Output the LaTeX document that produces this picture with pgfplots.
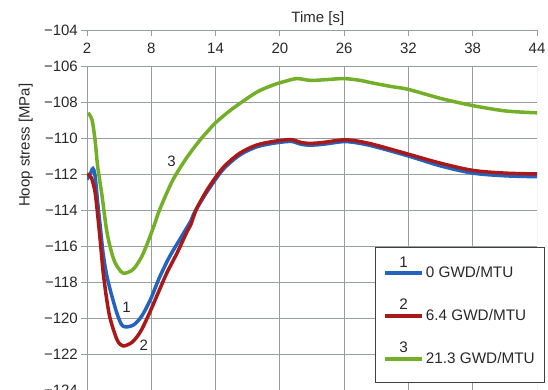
\documentclass[border=0pt]{standalone}
\usepackage{pgfplots}
\pgfplotsset{compat=1.18}
\usepackage{fontspec}
\setmainfont{Liberation Sans}
\definecolor{gridc}{RGB}{150,158,158}
\definecolor{cblue}{RGB}{35,100,190}
\definecolor{cred}{RGB}{170,25,25}
\definecolor{cgreen}{RGB}{115,175,40}
\definecolor{txt}{RGB}{40,40,40}
\begin{document}
\fontsize{15}{18}\selectfont
\begin{tikzpicture}
\path[use as bounding box] (0,0) rectangle (548pt,389pt);
\clip (0,0) rectangle (548pt,389pt);
\begin{axis}[
  at={(87pt,-1pt)}, anchor=south west,
  scale only axis, width=450pt, height=360pt,
  xmin=2, xmax=44, ymin=-124, ymax=-104,
  axis line style={draw=none},
  xtick={2,8,14,20,26,32,38,44},
  ytick={-124,-122,-120,-118,-116,-114,-112,-110,-108,-106,-104},
  yticklabels={−124,−122,−120,−118,−116,−114,−112,−110,−108,−106,−104},
  xtick pos=upper, ytick pos=left,
  xticklabel pos=upper,
  tick align=inside,
  major tick length=6pt,
  xtick style={gridc, line width=0.8pt},
  ytick style={gridc, line width=0.8pt, xshift=-6pt},
  ymajorgrids,
  grid style={gridc, line width=0.8pt},
  xticklabel style={anchor=center, yshift=-18pt, text=txt},
  yticklabel style={xshift=-4pt, text=txt},
  tick label style={font=\fontsize{15}{18}\selectfont},
  /pgf/number format/assume math mode=true,
  xlabel={Time [s]},
  xlabel style={at={(axis description cs:0.513,1)}, anchor=center, yshift=11pt, text=txt},
  ylabel={Hoop stress [MPa]},
  ylabel style={at={(axis description cs:-0.136,0.68)}, anchor=center, text=txt},
  legend style={at={(axis description cs:0.641,0.397)}, anchor=north west,
    draw=black!75, line width=0.8pt, fill=white, font=\fontsize{15.3}{18}\selectfont,
    inner xsep=7.5pt, inner ysep=8pt, row sep=9.5pt, text=txt,
    nodes={inner xsep=2pt}},
  legend cell align=left,
]
\pgfplotsinvokeforeach{2,8,14,20,26,32,38,44}{
  \draw[gridc, line width=0.8pt] (axis cs:#1,-106) -- (axis cs:#1,-124);
}
\addplot[cblue, line width=3.5pt, smooth, tension=0.5,
  legend image code/.code={\draw[cblue,line width=3.5pt] (0pt,0pt) -- (37pt,0pt);
    \path (0pt,-14pt);
    \node[text=txt, anchor=south, inner sep=1pt] at (18.5pt,1pt) {1};}]
coordinates {
(2,-112.3)(2.3,-112.0)(2.55,-111.7)(2.75,-112.1)(3.0,-113.6)(3.25,-115.0)(3.5,-116.4)
(3.8,-117.5)(4.15,-118.4)(4.8,-119.75)(5.35,-120.45)(6.3,-120.4)(7.1,-119.9)(7.9,-119.0)
(8.8,-117.7)(9.7,-116.6)(10.7,-115.6)(11.3,-115.0)(11.7,-114.6)(11.9,-114.3)(12.3,-113.85)(13.3,-112.9)
(14.7,-111.75)(16.25,-110.95)(17.8,-110.5)(19.3,-110.3)(20.6,-110.2)(21.2,-110.2)(22,-110.35)
(22.8,-110.4)(24,-110.35)(26,-110.2)(27.5,-110.3)(29,-110.5)(32,-111.0)(35,-111.55)
(38,-111.95)(41,-112.1)(44,-112.15)
};
\addlegendentry{0 GWD/MTU}
\addplot[cred, line width=3.5pt, smooth, tension=0.5,
  legend image code/.code={\draw[cred,line width=3.5pt] (0pt,0pt) -- (37pt,0pt);
    \path (0pt,-14pt);
    \node[text=txt, anchor=south, inner sep=1pt] at (18.5pt,1pt) {2};}]
coordinates {
(2,-112.0)(2.4,-112.2)(2.75,-113.0)(3.0,-114.3)(3.25,-115.8)(3.5,-117.4)(3.8,-118.8)
(4.15,-120.0)(4.8,-121.2)(5.35,-121.55)(6.2,-121.35)(6.95,-120.8)(7.7,-119.9)(8.5,-118.8)
(9.45,-117.5)(10.4,-116.4)(11.3,-115.25)(11.7,-114.8)(11.9,-114.45)(12.3,-113.85)(13.3,-112.8)
(14.7,-111.65)(16.25,-110.85)(17.8,-110.4)(19.3,-110.2)(20.6,-110.1)(21.2,-110.1)(22.0,-110.25)
(22.8,-110.3)(24,-110.25)(26,-110.1)(27.5,-110.2)(29,-110.4)(32,-110.9)(35,-111.4)
(38,-111.8)(41,-111.95)(44,-112.0)
};
\addlegendentry{6.4 GWD/MTU}
\addplot[cgreen, line width=3.5pt, smooth, tension=0.5,
  legend image code/.code={\draw[cgreen,line width=3.5pt] (0pt,0pt) -- (37pt,0pt);
    \path (0pt,-14pt);
    \node[text=txt, anchor=south, inner sep=1pt] at (18.5pt,1pt) {3};}]
coordinates {
(2.1,-108.6)(2.47,-109.0)(2.75,-110.1)(3.0,-111.6)(3.4,-113.2)(3.8,-115.0)(4.14,-116.0)
(4.6,-116.9)(5.35,-117.5)(6.3,-117.3)(7.1,-116.6)(7.7,-115.75)(8.3,-114.8)(8.8,-113.95)
(10.0,-112.35)(11.3,-111.1)(12.5,-110.15)(13.3,-109.6)(14.0,-109.15)(15.3,-108.5)(16.7,-107.9)
(18,-107.4)(19.4,-107.05)(20.5,-106.85)(21.6,-106.7)(22.9,-106.8)(24.5,-106.75)(26,-106.7)
(27.5,-106.8)(28.7,-106.95)(30.5,-107.15)(32,-107.3)(35,-107.8)(38,-108.2)(41.1,-108.5)(44,-108.6)
};
\addlegendentry{21.3 GWD/MTU}
\node[text=txt] at (axis cs:9.9,-111.3) {3};
\node[text=txt] at (axis cs:5.7,-119.4) {1};
\node[text=txt] at (axis cs:7.3,-121.5) {2};
\end{axis}
\end{tikzpicture}
\end{document}
